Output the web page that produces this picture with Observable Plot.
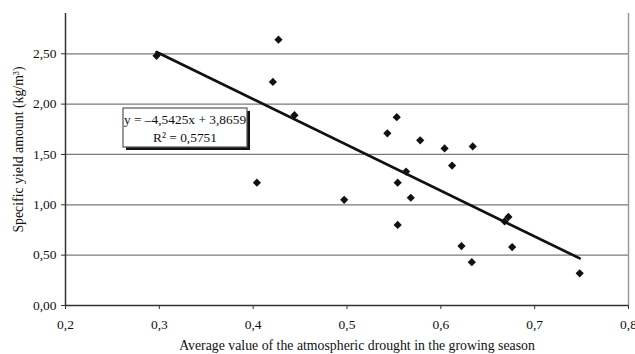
<!DOCTYPE html>
<html>
<head>
<meta charset="utf-8">
<script src="https://cdn.jsdelivr.net/npm/d3@7"></script>
<script src="https://cdn.jsdelivr.net/npm/@observablehq/plot@0.6"></script>
<style>
  html, body { margin: 0; padding: 0; background: #fff; }
</style>
</head>
<body>
<div id="chart"></div>
<script>
// Observed data: atmospheric drought (x) vs specific yield amount (y)
const drought = [0.297, 0.404, 0.421, 0.427, 0.444, 0.497, 0.543, 0.553, 0.554, 0.554, 0.563,
                 0.568, 0.578, 0.604, 0.612, 0.622, 0.633, 0.634, 0.668, 0.672, 0.676, 0.748];
const yieldAmt = [2.48, 1.22, 2.22, 2.64, 1.89, 1.05, 1.71, 1.87, 1.22, 0.80, 1.33,
                  1.07, 1.64, 1.56, 1.39, 0.59, 0.43, 1.58, 0.835, 0.88, 0.58, 0.32];

// Trendline coefficients (from chart equation)
const slope = -4.5425;
const intercept = 3.8659;
const r2 = 0.5751;

const xTicks = [0.2, 0.3, 0.4, 0.5, 0.6, 0.7, 0.8];
const yTicks = [0, 0.5, 1.0, 1.5, 2.0, 2.5];

const xTitle = "Average value of the atmospheric drought in the growing season";
const yTitle = "Specific yield amount (kg/m³)";

const points = drought.map((x, i) => ({x, y: yieldAmt[i]}));
const xExt = d3.extent(drought);
const trend = xExt.map(x => ({x, y: slope * x + intercept}));

const comma = s => s.replace(".", ",");
const fmtY = d => comma(d3.format(".2f")(d));
const fmtX = d => comma(d3.format(".1f")(d));
const fmtCoef = (v, n) => comma(d3.format("." + n + "f")(Math.abs(v)));
const eqLine1 = `y = ${slope < 0 ? "–" : ""}${fmtCoef(slope, 4)}x + ${fmtCoef(intercept, 4)}`;
const eqLine2 = `R² = ${fmtCoef(r2, 4)}`;

const font = "'Liberation Serif', 'Times New Roman', Times, serif";

// Equation label box (function mark)
function eqBox(index, scales, values, dims) {
  const g = d3.create("svg:g");
  const bx = dims.marginLeft + 58, by = dims.marginTop + 95, bw = 124, bh = 39;
  g.append("rect").attr("x", bx + 3).attr("y", by + 3).attr("width", bw).attr("height", bh)
    .attr("fill", "#111");
  g.append("rect").attr("x", bx).attr("y", by).attr("width", bw).attr("height", bh)
    .attr("fill", "#fff").attr("stroke", "#555").attr("stroke-width", 1.2);
  g.append("text").attr("x", bx + bw / 2).attr("y", by + 15.5).attr("text-anchor", "middle")
    .attr("font-family", font).attr("font-size", 13.4).attr("fill", "#111").text(eqLine1);
  g.append("text").attr("x", bx + bw / 2).attr("y", by + 34).attr("text-anchor", "middle")
    .attr("font-family", font).attr("font-size", 13.4).attr("fill", "#111").text(eqLine2);
  return g.node();
}

const chart = Plot.plot({
  width: 635,
  height: 354,
  marginLeft: 65,
  marginRight: 7,
  marginTop: 13,
  marginBottom: 49,
  style: {fontFamily: font, fontSize: "13.5px", background: "#fff", color: "#111"},
  x: {domain: [0.2, 0.8]},
  y: {domain: [0, 2.9]},
  marks: [
    Plot.ruleY(yTicks.filter(d => d > 0), {stroke: "#7a7a7a", strokeWidth: 1.3}),
    Plot.ruleX([xTicks[xTicks.length - 1]], {stroke: "#9a9a9a", strokeWidth: 1.5}),
    Plot.axisY({ticks: yTicks, tickFormat: fmtY, tickSize: 4, tickPadding: 5, label: null, stroke: "#333"}),
    Plot.axisX({ticks: xTicks, tickFormat: fmtX, tickSize: 4, tickPadding: 10, label: null, stroke: "#333"}),
    Plot.ruleX([xTicks[0]], {stroke: "#333", strokeWidth: 1.5}),
    Plot.ruleY([0], {stroke: "#333", strokeWidth: 1.5}),
    Plot.line(trend, {x: "x", y: "y", stroke: "#111", strokeWidth: 2.7}),
    Plot.dot(points, {x: "x", y: "y", symbol: "diamond2", r: 3.7, fill: "#111", stroke: "none"}),
    eqBox,
    Plot.text([xTitle], {text: d => d, frameAnchor: "bottom", textAnchor: "middle", lineAnchor: "middle",
                         dy: 40, dx: 10, fontSize: 13.8, fill: "#111"}),
    Plot.text([yTitle], {text: d => d, frameAnchor: "left", textAnchor: "middle", lineAnchor: "middle",
                         rotate: -90, dx: -47, dy: -10, fontSize: 13.8, fill: "#111"})
  ]
});

document.getElementById("chart").appendChild(chart);
</script>
</body>
</html>
